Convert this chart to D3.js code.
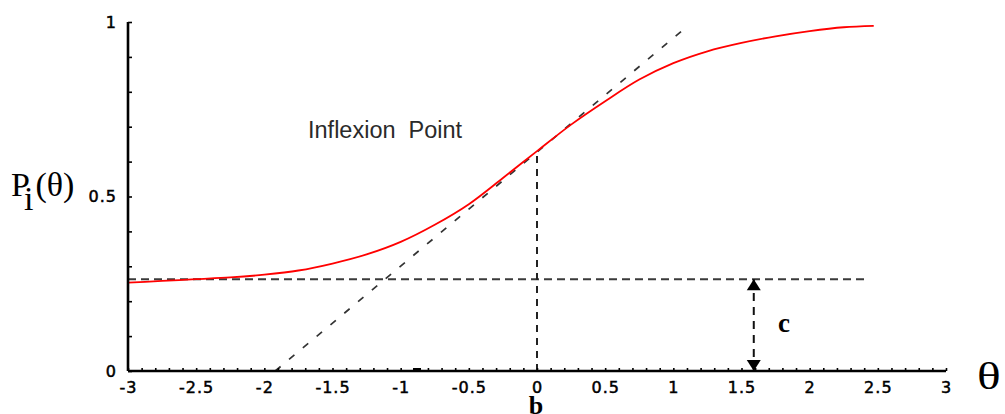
<!DOCTYPE html>
<html>
<head>
<meta charset="utf-8">
<script src="https://cdn.jsdelivr.net/npm/d3@7"></script>
<style>
  body { margin: 0; background: #fff; }
  svg { display: block; }
</style>
</head>
<body>
<div id="chart"></div>
<script>
// curve (theta, probability)
const theta = [-3, -2.75, -2.5, -2.25, -2, -1.75, -1.5, -1.25, -1, -0.75, -0.5, -0.25, 0, 0.25, 0.5, 0.75, 1, 1.25, 1.5, 1.75, 2, 2.25, 2.47];
const prob = [0.253, 0.258, 0.263, 0.268, 0.276, 0.288, 0.308, 0.334, 0.37, 0.419, 0.478, 0.553, 0.63, 0.706, 0.773, 0.835, 0.882, 0.916, 0.94, 0.959, 0.974, 0.985, 0.989];

// tangent at the inflexion point
const tangentTheta = [-1.92, 1.11];
const tangentProb = [0, 0.99];

// guessing parameter c, difficulty b
const cValue = 0.263;
const cLineTheta = [-3, 2.41];
const bValue = 0;
const bProb = 0.63;
const arrowTheta = 1.59;
const stray = [-0.88];

// axis ticks
const xTicks = [-3, -2.5, -2, -1.5, -1, -0.5, 0, 0.5, 1, 1.5, 2, 2.5, 3];
const xTickLabels = ["-3", "-2.5", "-2", "-1.5", "-1", "-0.5", "0", "0.5", "1", "1.5", "2", "2.5", "3"];
const yTicks = [0, 0.5, 1];
const yTickLabels = ["0", "0.5", "1"];
const minorX = d3.range(-30, 31).map(d => d / 10);
const minorY = d3.range(0, 11).map(d => d / 10);

const width = 1005, height = 414;

const svg = d3.select("#chart")
  .append("svg")
  .attr("width", width)
  .attr("height", height);

const x = d3.scaleLinear().domain([-3, 3]).range([128, 946]);
const y = d3.scaleLinear().domain([0, 1]).range([371, 22]);

// dashed helper lines
const lineGen = d3.line().x(d => x(d[0])).y(d => y(d[1]));

svg.append("path")
  .datum(d3.zip(tangentTheta, tangentProb))
  .attr("d", lineGen)
  .attr("fill", "none")
  .attr("stroke", "#333")
  .attr("stroke-width", 1.7)
  .attr("stroke-dasharray", "7,11");

svg.append("path")
  .datum(cLineTheta.map(t => [t, cValue]))
  .attr("d", lineGen)
  .attr("fill", "none")
  .attr("stroke", "#3a3a3a")
  .attr("stroke-width", 2)
  .attr("stroke-dasharray", "8,5");

svg.append("path")
  .datum([[bValue, 0], [bValue, bProb]])
  .attr("d", lineGen)
  .attr("fill", "none")
  .attr("stroke", "#222")
  .attr("stroke-width", 2)
  .attr("stroke-dasharray", "7,6");

// double arrow for c
svg.append("path")
  .datum([[arrowTheta, 0], [arrowTheta, cValue]])
  .attr("d", lineGen)
  .attr("fill", "none")
  .attr("stroke", "#111")
  .attr("stroke-width", 2)
  .attr("stroke-dasharray", "8,6");

const ax = x(arrowTheta);
svg.append("path")
  .attr("d", `M${ax},${y(cValue)} L${ax - 7},${y(cValue) + 11} L${ax + 7},${y(cValue) + 11} Z`)
  .attr("fill", "#000");
svg.append("path")
  .attr("d", `M${ax},${y(0)} L${ax - 7},${y(0) - 11} L${ax + 7},${y(0) - 11} Z`)
  .attr("fill", "#000");

// red ICC
svg.append("path")
  .datum(d3.zip(theta, prob))
  .attr("d", d3.line().x(d => x(d[0])).y(d => y(d[1])).curve(d3.curveMonotoneX))
  .attr("fill", "none")
  .attr("stroke", "#ff0000")
  .attr("stroke-width", 1.8);

// axes: minor ticks pointing inward
svg.append("g")
  .attr("transform", `translate(0,${y(0)})`)
  .call(d3.axisBottom(x).tickValues(minorX).tickSizeInner(-3).tickSizeOuter(0).tickFormat(""))
  .call(g => g.select(".domain").remove())
  .call(g => g.selectAll(".tick line").attr("stroke", "#000").attr("stroke-width", 1.6));

svg.append("g")
  .attr("transform", `translate(${x(-3)},0)`)
  .call(d3.axisLeft(y).tickValues(minorY).tickSizeInner(-4).tickSizeOuter(0).tickFormat(""))
  .call(g => g.select(".domain").remove())
  .call(g => g.selectAll(".tick line").attr("stroke", "#000").attr("stroke-width", 1.6));

// axis lines
svg.append("line")
  .attr("x1", x(-3)).attr("x2", x(3))
  .attr("y1", y(0)).attr("y2", y(0))
  .attr("stroke", "#000").attr("stroke-width", 2.6);
svg.append("line")
  .attr("x1", x(-3)).attr("x2", x(-3))
  .attr("y1", y(0)).attr("y2", y(1))
  .attr("stroke", "#000").attr("stroke-width", 2.6);

// tick labels
const styleLabels = g => g.selectAll("text")
  .attr("font-family", "'DejaVu Sans', sans-serif")
  .attr("font-size", 16)
  .attr("letter-spacing", 1)
  .attr("fill", "#000")
  .attr("stroke", "#000")
  .attr("stroke-width", 0.5);

svg.append("g")
  .attr("transform", `translate(0,${y(0)})`)
  .call(d3.axisBottom(x).tickValues(xTicks).tickSize(0).tickPadding(11)
    .tickFormat((d, i) => xTickLabels[i]))
  .call(g => g.select(".domain").remove())
  .call(styleLabels);

svg.append("g")
  .attr("transform", `translate(${x(-3)},0)`)
  .call(d3.axisLeft(y).tickValues(yTicks).tickSize(0).tickPadding(11)
    .tickFormat((d, i) => yTickLabels[i]))
  .call(g => g.select(".domain").remove())
  .call(styleLabels);

// small stray dash on the axis
svg.selectAll(".stray")
  .data(stray)
  .join("line")
  .attr("class", "stray")
  .attr("x1", d => x(d) - 4)
  .attr("x2", d => x(d) + 4)
  .attr("y1", y(0) - 1.5)
  .attr("y2", y(0) - 1.5)
  .attr("stroke", "#000")
  .attr("stroke-width", 3);

// labels
svg.append("text")
  .attr("x", 308)
  .attr("y", 138)
  .style("white-space", "pre")
  .attr("font-family", "'Liberation Sans', Arial, sans-serif")
  .attr("font-size", 23.5)
  .attr("fill", "#2a2a2a")
  .text("Inflexion  Point");

const pLabel = svg.append("text")
  .attr("font-family", "'Liberation Serif', 'Times New Roman', serif")
  .attr("x", 11)
  .attr("y", 196)
  .attr("font-size", 34);
pLabel.append("tspan").text("P");
pLabel.append("tspan").attr("dx", -6).attr("dy", 14).text("i");
pLabel.append("tspan").attr("dx", 2).attr("dy", -14).text("(\u03B8)");

svg.append("text")
  .attr("font-family", "'Liberation Serif', 'Times New Roman', serif")
  .attr("transform", "translate(977,389) scale(1.3,1)")
  .attr("font-size", 38)
  .text("\u03B8");

svg.append("text")
  .attr("font-family", "'Liberation Serif', 'Times New Roman', serif")
  .attr("x", x(bValue) - 1)
  .attr("y", 413.5)
  .attr("text-anchor", "middle")
  .attr("font-size", 26)
  .attr("font-weight", "bold")
  .text("b");

svg.append("text")
  .attr("font-family", "'Liberation Serif', 'Times New Roman', serif")
  .attr("x", 784)
  .attr("y", 332)
  .attr("text-anchor", "middle")
  .attr("font-size", 27)
  .attr("font-weight", "bold")
  .text("c");
</script>
</body>
</html>
